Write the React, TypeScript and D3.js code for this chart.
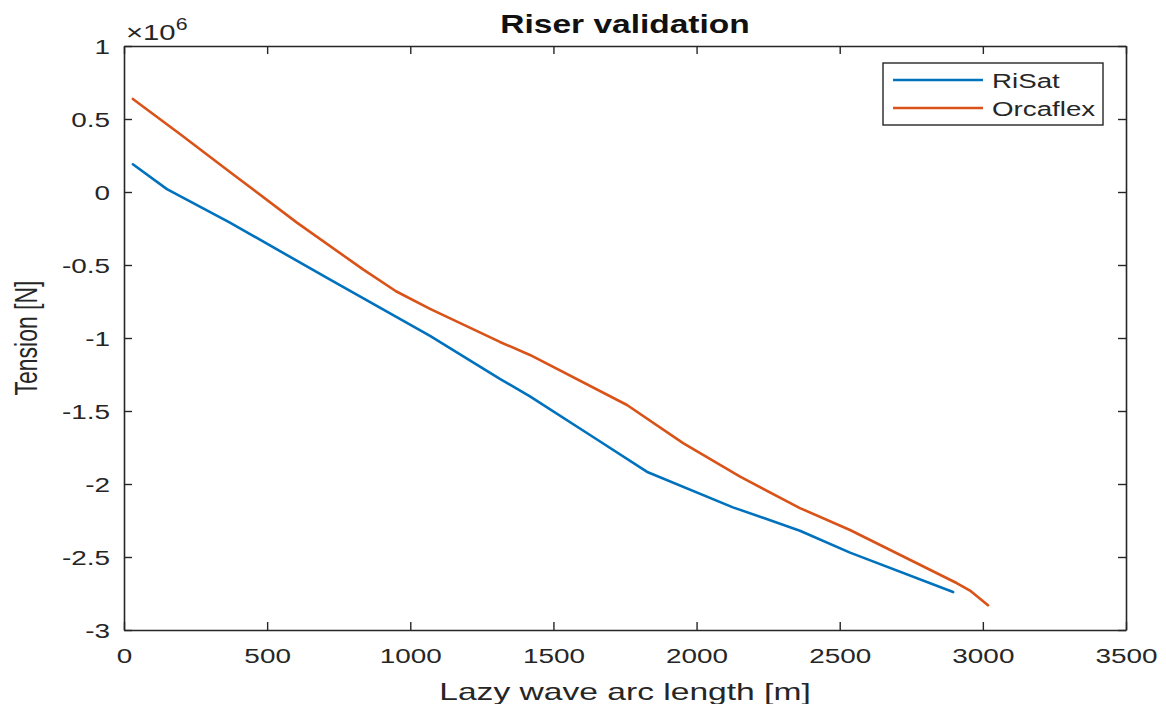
import React, { useRef, useEffect } from 'react';
import * as d3 from 'd3';

// Arc length [m] and tension [x1e6 N]
const risatArc = [31, 150, 370, 720, 1069, 1313, 1418, 1640, 1830, 2127, 2361, 2536, 2896];
const risatTension = [0.19, 0.02, -0.21, -0.6, -0.985, -1.28, -1.4, -1.68, -1.92, -2.16, -2.32, -2.47, -2.74];

const orcaArc = [31, 200, 370, 604, 835, 950, 1069, 1313, 1418, 1757, 1953, 2152, 2361, 2536, 2910, 2955, 3018];
const orcaTension = [0.637, 0.39, 0.137, -0.21, -0.53, -0.68, -0.8, -1.027, -1.116, -1.459, -1.72, -1.95, -2.165, -2.315, -2.68, -2.73, -2.83];

const xTicks = [0, 500, 1000, 1500, 2000, 2500, 3000, 3500];
const yTicks = [1, 0.5, 0, -0.5, -1, -1.5, -2, -2.5, -3];

const seriesNames = ['RiSat', 'Orcaflex'];
const seriesColors = ['#0072BD', '#D95319'];

const FONT = '"Liberation Sans", Arial, Helvetica, sans-serif';
const INK = '#262626';

export default function App() {
  const ref = useRef<SVGSVGElement>(null);

  useEffect(() => {
    const svg = d3.select(ref.current);
    svg.selectAll('*').remove();

    const width = 1166;
    const height = 704;
    const margin = { top: 46, right: 40, bottom: 74, left: 124 };

    const x = d3.scaleLinear().domain([0, 3500]).range([margin.left, width - margin.right]);
    const y = d3.scaleLinear().domain([-3, 1]).range([height - margin.bottom, margin.top]);

    svg.attr('viewBox', `0 0 ${width} ${height}`);

    const styleAxis = (g: any) => {
      g.select('.domain').attr('stroke', INK).attr('stroke-width', 1.6);
      g.selectAll('.tick line').attr('stroke', INK).attr('stroke-width', 1.4);
      g.selectAll('text')
        .attr('fill', INK)
        .style('font-family', FONT)
        .style('font-size', '21px');
    };

    // bottom axis with labels
    svg
      .append('g')
      .attr('transform', `translate(0,${y(-3)})`)
      .call(d3.axisBottom(x).tickValues(xTicks).tickSizeInner(-8).tickSizeOuter(0).tickPadding(18).tickFormat(d3.format('d')))
      .call(styleAxis)
      .call((g: any) => g.selectAll('text').attr('transform', 'scale(1.33,1)'));

    // left axis with labels
    svg
      .append('g')
      .attr('transform', `translate(${x(0)},0)`)
      .call(d3.axisLeft(y).tickValues(yTicks).tickSizeInner(-8).tickSizeOuter(0).tickPadding(10.5).tickFormat((d: any) => String(d)))
      .call(styleAxis)
      .call((g: any) => g.selectAll('text').attr('dy', '0.38em').attr('transform', 'scale(1.33,1)'));

    // top and right (box) axes, ticks only
    svg
      .append('g')
      .attr('transform', `translate(0,${y(1)})`)
      .call(d3.axisTop(x).tickValues(xTicks).tickSizeInner(-8).tickSizeOuter(0).tickFormat(() => ''))
      .call(styleAxis);

    svg
      .append('g')
      .attr('transform', `translate(${x(3500)},0)`)
      .call(d3.axisRight(y).tickValues(yTicks).tickSizeInner(-8).tickSizeOuter(0).tickFormat(() => ''))
      .call(styleAxis);

    // lines
    const line = d3
      .line<[number, number]>()
      .x(d => x(d[0]))
      .y(d => y(d[1]));

    const series: [number, number][][] = [
      risatArc.map((a, i) => [a, risatTension[i]]),
      orcaArc.map((a, i) => [a, orcaTension[i]]),
    ];

    series.forEach((s, i) => {
      svg
        .append('path')
        .datum(s)
        .attr('fill', 'none')
        .attr('stroke', seriesColors[i])
        .attr('stroke-width', 2.6)
        .attr('stroke-linejoin', 'round')
        .attr('stroke-linecap', 'round')
        .attr('d', line);
    });

    // exponent label
    const expo = svg
      .append('text')
      .attr('transform', `translate(${x(0) + 2},40) scale(1.33,1)`)
      .attr('fill', INK)
      .style('font-family', FONT)
      .style('font-size', '22px');
    expo.append('tspan').text('×10');
    expo.append('tspan').attr('dy', -10).style('font-size', '16px').text('6');

    // title
    svg
      .append('text')
      .attr('transform', `translate(${(x(0) + x(3500)) / 2},33) scale(1.34,1)`)
      .attr('text-anchor', 'middle')
      .attr('fill', '#111')
      .style('font-family', FONT)
      .style('font-size', '25px')
      .style('font-weight', 'bold')
      .text('Riser validation');

    // axis titles
    svg
      .append('text')
      .attr('transform', `translate(${(x(0) + x(3500)) / 2},700) scale(1.4,1)`)
      .attr('text-anchor', 'middle')
      .attr('fill', INK)
      .style('font-family', FONT)
      .style('font-size', '24px')
      .text('Lazy wave arc length [m]');

    svg
      .append('text')
      .attr('transform', `translate(37,${(y(1) + y(-3)) / 2}) scale(1.33,1) rotate(-90)`)
      .attr('text-anchor', 'middle')
      .attr('fill', INK)
      .style('font-family', FONT)
      .style('font-size', '23px')
      .text('Tension [N]');

    // legend
    const lg = svg.append('g').attr('transform', 'translate(883,63)');
    lg.append('rect')
      .attr('width', 220)
      .attr('height', 62)
      .attr('fill', '#fff')
      .attr('stroke', INK)
      .attr('stroke-width', 1.4);
    seriesNames.forEach((name, i) => {
      const ly = 17 + i * 28;
      lg.append('line')
        .attr('x1', 10)
        .attr('x2', 100)
        .attr('y1', ly)
        .attr('y2', ly)
        .attr('stroke', seriesColors[i])
        .attr('stroke-width', 2.6);
      lg.append('text')
        .attr('transform', `translate(109,${ly + 8}) scale(1.32,1)`)
        .attr('fill', INK)
        .style('font-family', FONT)
        .style('font-size', '21px')
        .text(name);
    });
  }, []);

  return (
    <svg
      ref={ref}
      width={1166}
      height={704}
      style={{ position: 'absolute', left: 0, top: 0, background: '#fff' }}
    />
  );
}
